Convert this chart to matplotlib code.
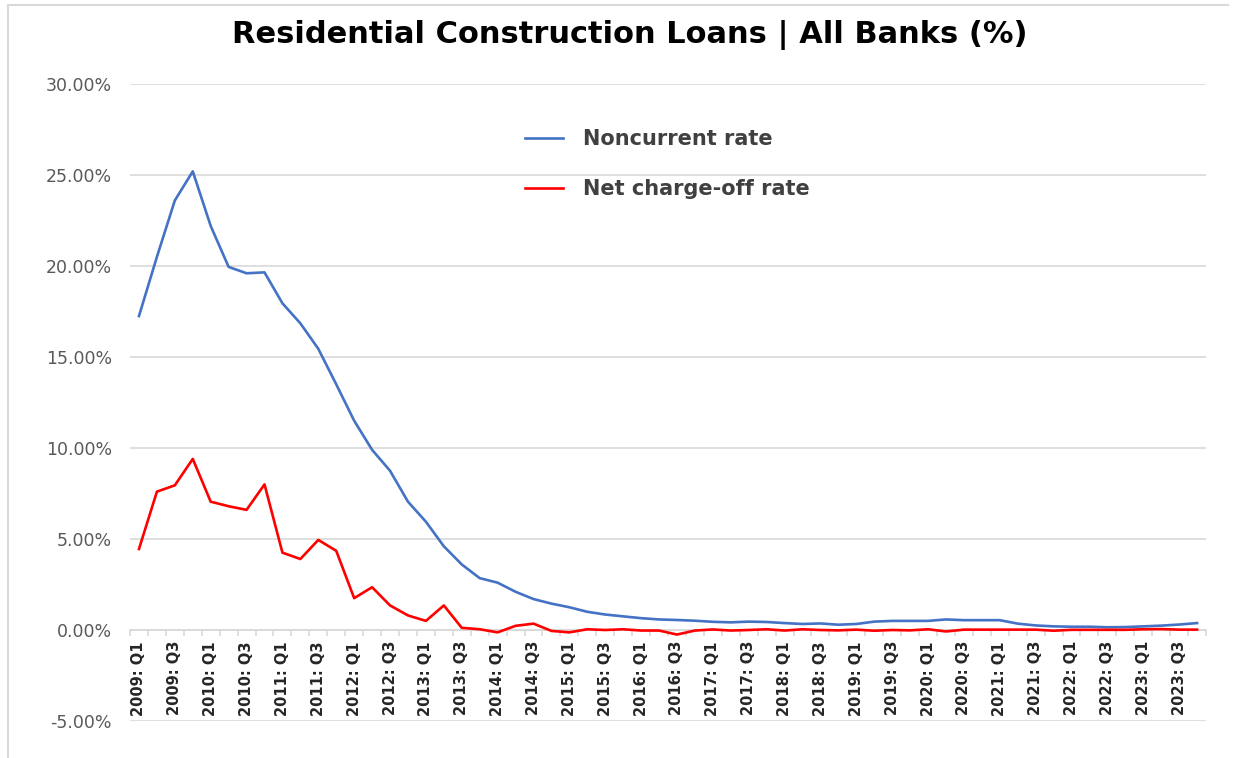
import matplotlib
matplotlib.use("Agg")
import matplotlib.pyplot as plt
from matplotlib.ticker import FuncFormatter, FixedLocator
from matplotlib.lines import Line2D

years = list(range(2009, 2024))
quarters = ["Q1", "Q2", "Q3", "Q4"]
periods = [f"{y}: {q}" for y in years for q in quarters]

noncurrent_rate = [
    17.25, 20.5, 23.6, 25.2, 22.2, 19.95, 19.6, 19.65, 17.95, 16.85,
    15.45, 13.5, 11.5, 9.9, 8.75, 7.05, 5.95, 4.6, 3.6, 2.85,
    2.6, 2.1, 1.7, 1.45, 1.25, 1.0, 0.85, 0.75, 0.65, 0.58,
    0.55, 0.51, 0.45, 0.42, 0.46, 0.44, 0.38, 0.33, 0.36, 0.29,
    0.33, 0.46, 0.5, 0.5, 0.5, 0.58, 0.54, 0.54, 0.54, 0.35,
    0.25, 0.2, 0.18, 0.18, 0.15, 0.16, 0.2, 0.24, 0.3, 0.38,
]
net_chargeoff_rate = [
    4.45, 7.6, 7.95, 9.4, 7.05, 6.8, 6.6, 8.0, 4.25, 3.9,
    4.95, 4.35, 1.75, 2.35, 1.35, 0.8, 0.5, 1.35, 0.12, 0.04,
    -0.13, 0.23, 0.35, -0.05, -0.13, 0.04, 0.0, 0.04, -0.03, -0.03,
    -0.25, -0.03, 0.03, -0.03, 0.0, 0.04, -0.03, 0.04, 0.0, -0.02,
    0.02, -0.04, 0.0, -0.02, 0.04, -0.08, 0.02, 0.02, 0.02, 0.02,
    0.02, -0.04, 0.01, 0.01, 0.01, 0.01, 0.04, 0.05, 0.02, 0.02,
]

grid_col = "#D9D9D9"

fig = plt.figure(figsize=(12.33, 7.58), dpi=100)
ax = fig.add_axes([130 / 1233, 37 / 758, 1076 / 1233, 637 / 758])

x = list(range(len(periods)))
ax.plot(x, noncurrent_rate, color="#4472C4", lw=1.9, label="Noncurrent rate", zorder=3)
ax.plot(x, net_chargeoff_rate, color="#FF0000", lw=1.9, label="Net charge-off rate", zorder=3)

ax.set_xlim(-0.5, len(periods) - 0.5)
ax.set_ylim(-5, 30)
ax.set_yticks(range(-5, 31, 5))
ax.yaxis.set_major_formatter(FuncFormatter(lambda v, p: f"{v:.2f}%"))
ax.grid(axis="y", color=grid_col, lw=1.2)
ax.set_axisbelow(True)
ax.tick_params(axis="y", length=0, pad=13, labelsize=12.5, labelcolor="#595959")

for s in ["top", "right", "left"]:
    ax.spines[s].set_visible(False)
ax.spines["bottom"].set_position(("data", 0))
ax.spines["bottom"].set_color(grid_col)
ax.spines["bottom"].set_linewidth(1.2)
ax.spines["bottom"].set_zorder(1)

ax.set_xticks(x[::2])
ax.set_xticklabels(periods[::2], rotation=90, fontweight="bold", fontsize=10.5, color="#262626")
ax.xaxis.set_minor_locator(FixedLocator([i - 0.5 for i in range(len(periods) + 1)]))
ax.tick_params(axis="x", which="major", length=0, pad=8)
ax.tick_params(axis="x", which="minor", length=4, width=1.2, color=grid_col)

fig.text(0.511, 1 - 35 / 758, "Residential Construction Loans | All Banks (%)",
         ha="center", va="center", fontsize=22, fontweight="bold")

leg = ax.legend(loc="upper left", bbox_to_anchor=(515 / 1233, (758 - 119) / 758),
                bbox_transform=fig.transFigure, frameon=False, borderpad=0,
                handlelength=1.8, handletextpad=0.95, labelspacing=1.42,
                prop={"weight": "bold", "size": 15})
for t in leg.get_texts():
    t.set_color("#404040")

# light frame on the left and top edges
fig.add_artist(Line2D([8 / 1233, 8 / 1233], [0, 1 - 5 / 758], color=grid_col, lw=1.5))
fig.add_artist(Line2D([8 / 1233, 1228 / 1233], [1 - 5 / 758, 1 - 5 / 758], color=grid_col, lw=1.5))

fig.savefig("out.png", dpi=100)
